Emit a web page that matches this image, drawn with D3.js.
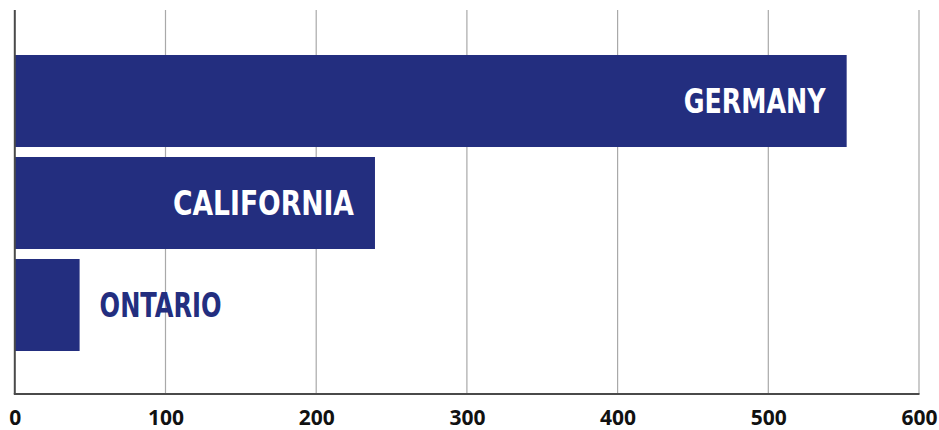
<!DOCTYPE html>
<html>
<head>
<meta charset="utf-8">
<script src="https://cdn.jsdelivr.net/npm/d3@7"></script>
<style>
  html, body { margin: 0; padding: 0; background: #fff; }
  svg { display: block; }
</style>
</head>
<body>
<svg id="chart" width="939" height="430"></svg>
<script>
const categories = ["GERMANY", "CALIFORNIA", "ONTARIO"];
const values = [552, 239, 43];
const tickValues = [0, 100, 200, 300, 400, 500, 600];
const labelWidths = [142, 181, 122];

const svg = d3.select("#chart");
const x = d3.scaleLinear().domain([0, 600]).range([14.8, 919]);
const y = d3.scaleBand().domain(categories).range([50, 356]).paddingInner(0.098).paddingOuter(0.049);
const barColor = "#232e7f";

// gridlines
svg.append("g").selectAll("line").data(tickValues.filter(d => d > 0)).join("line")
  .attr("x1", d => x(d)).attr("x2", d => x(d))
  .attr("y1", 10).attr("y2", 394)
  .attr("stroke", "#a9a9a9").attr("stroke-width", 1.2);

// bars
svg.append("g").selectAll("rect").data(categories).join("rect")
  .attr("x", x(0)).attr("y", d => y(d))
  .attr("width", (d, i) => x(values[i]) - x(0))
  .attr("height", y.bandwidth())
  .attr("fill", barColor);

// axis lines
svg.append("line").attr("x1", x(0)).attr("x2", x(0)).attr("y1", 10).attr("y2", 394)
  .attr("stroke", "#4a4a4a").attr("stroke-width", 2);
svg.append("line").attr("x1", x(0) - 1).attr("x2", x(600) + 0.5).attr("y1", 394).attr("y2", 394)
  .attr("stroke", "#4a4a4a").attr("stroke-width", 2);

// x axis tick labels
const axis = d3.axisBottom(x).tickValues(tickValues).tickSize(0).tickPadding(0).tickFormat(d3.format("d"));
const gAxis = svg.append("g").attr("transform", "translate(0,410)").call(axis);
gAxis.select(".domain").remove();
gAxis.selectAll("text")
  .attr("dy", "0.71em")
  .style("font-family", "'Open Sans', sans-serif")
  .style("font-weight", "700")
  .style("font-size", "21px")
  .attr("fill", "#111");

// bar labels
svg.append("g").selectAll("text").data(categories).join("text")
  .attr("x", (d, i) => {
    const end = x(values[i]);
    return values[i] > 100 ? end - 21 - labelWidths[i] : end + 20;
  })
  .attr("y", d => y(d) + y.bandwidth() / 2 + 12)
  .attr("textLength", (d, i) => labelWidths[i])
  .attr("lengthAdjust", "spacingAndGlyphs")
  .style("font-family", "'DejaVu Sans Condensed', 'DejaVu Sans', sans-serif")
  .style("font-stretch", "condensed")
  .style("font-weight", "700")
  .style("font-size", "34px")
  .attr("fill", (d, i) => values[i] > 100 ? "#fff" : barColor)
  .text(d => d);
</script>
</body>
</html>
